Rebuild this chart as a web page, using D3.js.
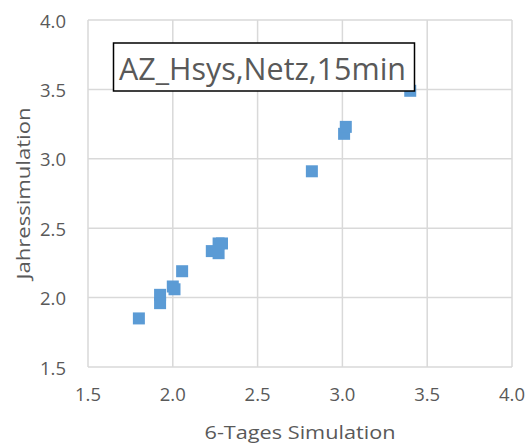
<!DOCTYPE html>
<html>
<head>
<meta charset="utf-8">
<script src="https://cdn.jsdelivr.net/npm/d3@7"></script>
<style>
  body { margin: 0; background: #fff; }
  text { font-family: "Open Sans", "Noto Sans", sans-serif; fill: #595959; }
</style>
</head>
<body>
<div id="chart"></div>
<script>
// 6-Tages Simulation vs Jahressimulation
const sixDay = [1.80, 1.925, 1.925, 2.00, 2.01, 2.055, 2.23, 2.27, 2.27, 2.29, 2.82, 3.01, 3.02, 3.40];
const annual = [1.85, 2.02, 1.96, 2.08, 2.06, 2.19, 2.335, 2.32, 2.39, 2.39, 2.91, 3.18, 3.23, 3.49];
const ticks = [1.5, 2.0, 2.5, 3.0, 3.5, 4.0];
const title = 'AZ_Hsys,Netz,15min';

const width = 527, height = 448;
const margin = { top: 20, right: 15, bottom: 81, left: 88 };

const svg = d3.select('#chart').append('svg')
  .attr('width', width)
  .attr('height', height);

const x = d3.scaleLinear().domain([1.5, 4.0]).range([margin.left, width - margin.right]);
const y = d3.scaleLinear().domain([1.5, 4.0]).range([height - margin.bottom, margin.top]);

// gridlines
svg.append('g').selectAll('line.v').data(ticks).enter().append('line')
  .attr('x1', d => x(d)).attr('x2', d => x(d))
  .attr('y1', y(1.5)).attr('y2', y(4.0))
  .attr('stroke', '#d9d9d9').attr('stroke-width', 1.5);
svg.append('g').selectAll('line.h').data(ticks).enter().append('line')
  .attr('x1', x(1.5)).attr('x2', x(4.0))
  .attr('y1', d => y(d)).attr('y2', d => y(d))
  .attr('stroke', '#d9d9d9').attr('stroke-width', 1.5);

// tick labels
const fmt = d3.format('.1f');
svg.append('g').selectAll('text').data(ticks).enter().append('text')
  .attr('x', d => x(d)).attr('y', y(1.5) + 34)
  .attr('text-anchor', 'middle').attr('font-size', 19)
  .attr('textLength', 26).attr('lengthAdjust', 'spacingAndGlyphs')
  .text(fmt);
svg.append('g').selectAll('text').data(ticks).enter().append('text')
  .attr('x', margin.left - 22).attr('y', d => y(d) + 7.5)
  .attr('text-anchor', 'end').attr('font-size', 19)
  .attr('textLength', 26).attr('lengthAdjust', 'spacingAndGlyphs')
  .text(fmt);

// axis titles
svg.append('text')
  .attr('x', x(2.75)).attr('y', 439)
  .attr('text-anchor', 'middle').attr('font-size', 19)
  .attr('textLength', 191).attr('lengthAdjust', 'spacingAndGlyphs')
  .text('6-Tages Simulation');
svg.append('text')
  .attr('transform', `translate(30,${y(2.75)}) rotate(-90)`)
  .attr('text-anchor', 'middle').attr('font-size', 19)
  .attr('textLength', 172).attr('lengthAdjust', 'spacingAndGlyphs')
  .text('Jahressimulation');

// points
const pts = sixDay.map((v, i) => ({ x: v, y: annual[i] }));
const s = 12;
svg.append('g').selectAll('rect').data(pts).enter().append('rect')
  .attr('x', d => x(d.x) - s / 2).attr('y', d => y(d.y) - s / 2)
  .attr('width', s).attr('height', s)
  .attr('fill', '#5b9bd5');

// title box
const box = svg.append('g');
box.append('rect')
  .attr('x', 113.5).attr('y', 43)
  .attr('width', 301).attr('height', 48)
  .attr('fill', '#fff').attr('stroke', '#000').attr('stroke-width', 1.5);
box.append('text')
  .attr('x', 119).attr('y', 80)
  .attr('font-size', 31)
  .attr('textLength', 287).attr('lengthAdjust', 'spacingAndGlyphs')
  .text(title);
</script>
</body>
</html>
